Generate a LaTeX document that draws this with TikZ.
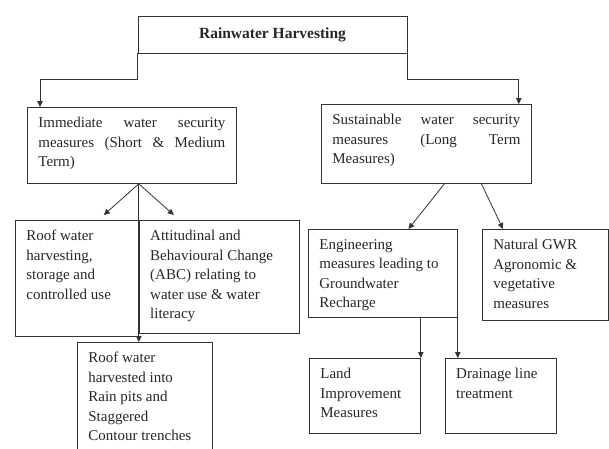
\documentclass[tikz,border=0pt]{standalone}
\usepackage{fontspec}
\setmainfont{Liberation Serif}
\usetikzlibrary{arrows.meta, positioning}
\tikzset{
    >={Triangle[length=6pt, width=5.5pt]},
    box/.style={draw=black!80, line width=0.8pt, anchor=north west, inner xsep=11pt, inner ysep=10pt, text=black!85, font=\fontsize{15}{19.5}\selectfont},
    link/.style={->, draw=black!80, line width=0.8pt}
}
\newcommand{\boxtext}[3]{\parbox[t][#2][t]{#1}{\raggedright #3}}
\newcommand{\fullline}[1]{\makebox[\linewidth][s]{#1}}

\begin{document}
\begin{tikzpicture}[x=1pt, y=-1pt]
        \clip (0,0) rectangle (609,448);
        \node[draw=black!80, line width=0.8pt, minimum width=269pt, minimum height=37pt, text=black!85, font=\fontsize{15.5}{19}\selectfont\bfseries] (rwh) at (272.5,34.5) {Rainwater Harvesting};
        \node[box] (imm) at (27,107) {\boxtext{187pt}{56pt}{\fullline{Immediate water security}\\\fullline{measures (Short \& Medium}\\Term)}};
        \node[box] (sus) at (321,104) {\boxtext{188pt}{59pt}{\fullline{Sustainable water security}\\\fullline{measures (Long Term}\\Measures)}};
        \node[box] (roof) at (15,220) {\boxtext{101pt}{96pt}{Roof water\\harvesting,\\storage and\\controlled use}};
        \node[box] (abc) at (roof.north east) {\boxtext{138pt}{93pt}{Attitudinal and\\Behavioural Change\\(ABC) relating to\\water use \& water\\literacy}};
        \node[box] (pits) at (77,342) {\boxtext{113pt}{110pt}{Roof water\\harvested into\\Rain pits and\\Staggered\\Contour trenches}};
        \node[box] (eng) at (308,229) {\boxtext{127pt}{68pt}{Engineering\\measures leading to\\Groundwater\\Recharge}};
        \node[box] (gwr) at (482,229) {\boxtext{104pt}{71pt}{Natural GWR\\Agronomic \&\\vegetative\\measures}};
        \node[box] (land) at (309,358) {\boxtext{89pt}{55pt}{Land\\Improvement\\Measures}};
        \node[box, right=24pt of land.north east, anchor=north west] (drain) {\boxtext{89pt}{55pt}{Drainage line\\treatment}};
        \coordinate (fan) at (imm.south -| abc.north west);
        \draw[link] (rwh.south west) -- ++(0,26) -| ([xshift=13pt]imm.north west);
        \draw[link] (rwh.south east) -- ++(0,26) -| ([xshift=-13pt]sus.north east);
        \draw[link] (fan) -- ([xshift=-35pt, yshift=5pt]roof.north east);
        \draw[link] (fan) -- ([xshift=35pt, yshift=5pt]abc.north west);
        \draw[link] (fan) -- (fan |- pits.north);
        \draw[link] ([xshift=18pt]sus.south) -- ([xshift=25.5pt]eng.north);
        \draw[link] ([xshift=55pt]sus.south) -- ([xshift=21pt]gwr.north west);
        \draw[link] (eng.south -| land.north east) -- (land.north east);
        \draw[link] ([yshift=9pt]eng.south east) -- (eng.south east |- drain.north);
    \end{tikzpicture}
\end{document}
